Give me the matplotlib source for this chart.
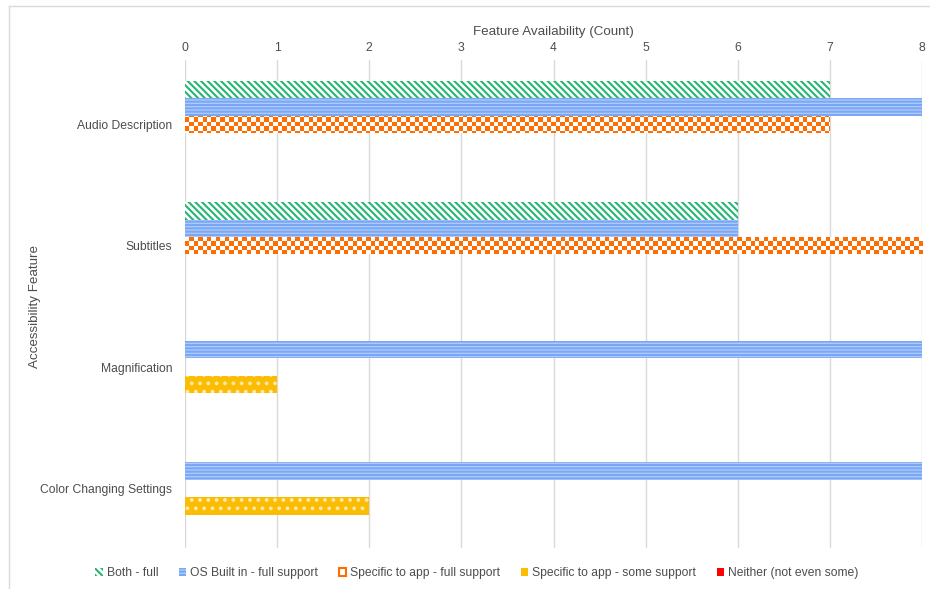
import numpy as np
import matplotlib.pyplot as plt
from matplotlib.patches import Patch
from matplotlib.lines import Line2D
from matplotlib.colors import ListedColormap

plt.rcParams['font.family'] = ['Liberation Sans', 'DejaVu Sans']
plt.rcParams['hatch.linewidth'] = 1.5

features = ['Audio Description', 'Subtitles', 'Magnification', 'Color Changing Settings']
series = ['Both - full', 'OS Built in - full support', 'Specific to app - full support',
          'Specific to app - some support', 'Neither (not even some)']
both_full = [7, 6, 0, 0]
os_full = [8, 6, 8, 8]
app_full = [7, 8, 0, 0]
app_some = [0, 0, 1, 2]
neither = [0, 0, 0, 0]
values = [both_full, os_full, app_full, app_some, neither]

# face, hatch colour, hatch pattern
styles = [
    ('white', '#27b574', '\\\\\\\\\\'),
    ('#b0ccfb', '#7aa7f5', '-----'),
    ('white', '#ff6d01', None),
    ('#fbbc04', '#ffe9a8', '..'),
    ('#ff0000', '#ff0000', None),
]
text_col = '#4d4d4d'
grid_col = '#d9d9d9'

fig = plt.figure(figsize=(9.3, 5.89), dpi=100)
ax = fig.add_axes([185 / 930, 1 - 548 / 589, 737 / 930, 488 / 589])

y = np.arange(len(features))
h = 0.143
orange_bars = []
for i, (vals, (face, hc, hatch)) in enumerate(zip(values, styles)):
    bars = ax.barh(y + (i - 2) * h, vals, height=h, color=face, edgecolor=hc,
                   hatch=hatch, linewidth=0, zorder=3)
    if i == 2:
        orange_bars = bars

ax.set_xlim(0, 8)
ax.set_ylim(3.49, -0.53)

# checkerboard fill for the app-specific full support bars
cell = 4.4
ncols = int(737 / cell)
nrows = int(488 / cell)
checker = (np.add.outer(np.arange(nrows), np.arange(ncols)) % 2).astype(float)
cmap = ListedColormap(['white', '#ff6d01'])
for bar in orange_bars:
    if bar.get_width() <= 0:
        continue
    im = ax.imshow(checker, cmap=cmap, extent=(0, 8, 3.49, -0.53), aspect='auto',
                   interpolation='nearest', zorder=3.5)
    im.set_clip_path(bar)

ax.set_xlim(0, 8)
ax.set_ylim(3.49, -0.53)
ax.set_yticks(y)
ax.set_yticklabels(features)
ax.set_xticks(range(0, 9))
ax.xaxis.tick_top()
ax.xaxis.set_label_position('top')
ax.set_xlabel('Feature Availability (Count)', fontsize=9.6, color=text_col, labelpad=5)
ax.tick_params(axis='both', length=0, labelsize=8.7, labelcolor=text_col)
ax.tick_params(axis='x', pad=4)
ax.tick_params(axis='y', pad=9)
for s in ax.spines.values():
    s.set_visible(False)
ax.grid(axis='x', color=grid_col, linewidth=1, zorder=0)
ax.set_axisbelow(True)

fig.text(35 / 930, 1 - 306 / 589, 'Accessibility Feature', rotation=90, fontsize=9.6,
         color=text_col, ha='center', va='center')

handles = []
for i, (face, hc, hatch) in enumerate(styles):
    if i == 2:
        handles.append(Patch(facecolor='white', edgecolor=hc, linewidth=1.5))
    elif i == 3:
        handles.append(Patch(facecolor=face, edgecolor=face, linewidth=0))
    else:
        handles.append(Patch(facecolor=face, edgecolor=hc, hatch=hatch, linewidth=0))
fig.legend(handles, series, loc='center', bbox_to_anchor=(0.513, 1 - 573 / 589),
           ncol=5, frameon=False, fontsize=8.7, handlelength=0.6, handleheight=0.6,
           handletextpad=0.35, columnspacing=1.7, labelcolor=text_col)

# light outer frame
fig.add_artist(Line2D([9 / 930, 1], [1 - 6 / 589, 1 - 6 / 589], color=grid_col, lw=1))
fig.add_artist(Line2D([9 / 930, 9 / 930], [0, 1 - 6 / 589], color=grid_col, lw=1))

fig.savefig('out.png', dpi=100)
